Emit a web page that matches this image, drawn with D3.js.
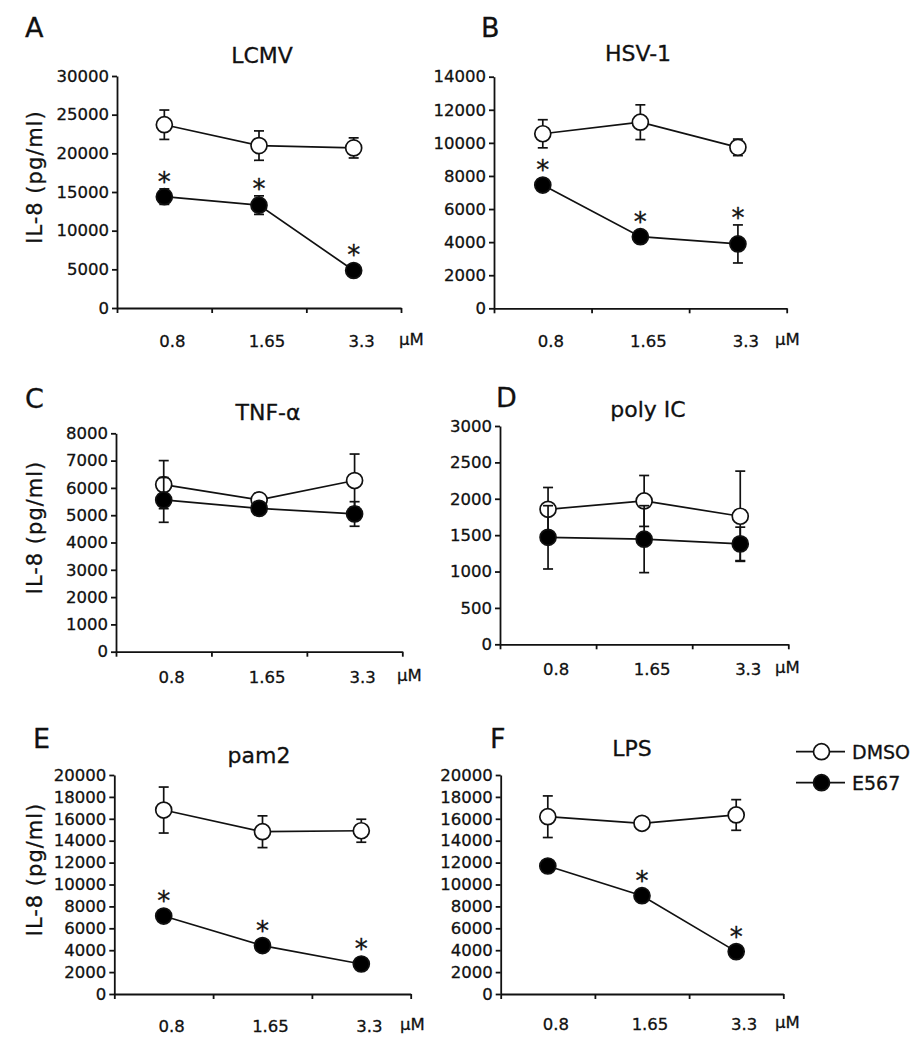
<!DOCTYPE html>
<html>
<head>
<meta charset="utf-8">
<script src="https://cdn.jsdelivr.net/npm/d3@7"></script>
<style>
  html, body { margin: 0; padding: 0; background: #fff; }
  svg { display: block; }
  text { font-family: "DejaVu Sans", Verdana, sans-serif; fill: #111; stroke: #111; stroke-width: 0.3px; }
</style>
</head>
<body>
<svg id="chart" width="922" height="1050"></svg>
<script>
// ---------------- data ----------------
const doses = ["0.8", "1.65", "3.3"];
const panelLetters = ["A", "B", "C", "D", "E", "F"];
const panelTitles = ["LCMV", "HSV-1", "TNF-\u03B1", "poly IC", "pam2", "LPS"];
const yMaxValues = [30000, 14000, 8000, 3000, 20000, 20000];
const yStepValues = [5000, 2000, 1000, 500, 2000, 2000];
const seriesNames = ["DMSO", "E567"];

const dmsoMean = [
  [23700, 21000, 20700],
  [10550, 11250, 9730],
  [6120, 5560, 6270],
  [1855, 1970, 1760],
  [16800, 14820, 14910],
  [16190, 15590, 16350]
];
const dmsoErr = [
  [1900, 1900, 1300],
  [850, 1050, 500],
  [880, 150, 970],
  [300, 350, 620],
  [2100, 1450, 1050],
  [1900, 200, 1400]
];
const e567Mean = [
  [14400, 13300, 4850],
  [7450, 4330, 3890],
  [5560, 5250, 5045],
  [1470, 1445, 1380],
  [7120, 4420, 2740],
  [11690, 8980, 3870]
];
const e567Err = [
  [1000, 1200, 500],
  [350, 350, 1150],
  [820, 150, 450],
  [435, 460, 230],
  [300, 300, 300],
  [300, 300, 300]
];
const significant = [
  [1, 1, 1],
  [1, 1, 1],
  [0, 0, 0],
  [0, 0, 0],
  [1, 1, 1],
  [0, 1, 1]
];
const yAxisLabel = "IL-8 (pg/ml)";
const unitLabel = "\u03BCM";

// ---------------- layout (positions only) ----------------
const layout = [
  { x0: 117,   x1: 401,   yTop: 76,    yBot: 308,   labY: 346.5, titleX: 262, titleY: 63,  letX: 25,  letY: 37,  unitX: 399, yLabel: true },
  { x0: 494,   x1: 786.7, yTop: 76.7,  yBot: 308.3, labY: 346.5, titleX: 638, titleY: 61,  letX: 481, letY: 37,  unitX: 775, yLabel: false },
  { x0: 116,   x1: 402.3, yTop: 433.3, yBot: 651.7, labY: 683,   titleX: 268, titleY: 420, letX: 25,  letY: 408, unitX: 397, yLabel: true },
  { x0: 500,   x1: 788.3, yTop: 426,   yBot: 644.3, labY: 675,   titleX: 648, titleY: 417, letX: 496, letY: 407, unitX: 775, yLabel: false },
  { x0: 114.3, x1: 410.7, yTop: 775,   yBot: 994,   labY: 1031.5,titleX: 259, titleY: 763, letX: 33,  letY: 748, unitX: 400, yLabel: true },
  { x0: 500.7, x1: 783.3, yTop: 775,   yBot: 994,   labY: 1030,  titleX: 632, titleY: 756, letX: 490, letY: 748, unitX: 775, yLabel: false }
];
const R = 8;
const LW = 1.7;

const svg = d3.select("#chart");
svg.append("rect").attr("width", 922).attr("height", 1050).attr("fill", "#fff");

panelLetters.forEach((letter, p) => {
  const L = layout[p];
  const g = svg.append("g");
  const x = d3.scaleLinear().domain([0, doses.length]).range([L.x0, L.x1]);
  const y = d3.scaleLinear().domain([0, yMaxValues[p]]).range([L.yBot, L.yTop]);

  // y axis
  const yTicks = d3.range(0, yMaxValues[p] + 1, yStepValues[p]);
  const yAx = g.append("g").attr("transform", `translate(${L.x0},0)`)
    .call(d3.axisLeft(y).tickValues(yTicks).tickFormat(d3.format("d")).tickSize(5).tickSizeOuter(0).tickPadding(3));
  yAx.selectAll("text").attr("font-size", 16.5).attr("font-family", "DejaVu Sans").attr("fill", "#111");
  yAx.selectAll("line, path").attr("stroke", "#111").attr("stroke-width", 1.8);

  // x axis (ticks at category boundaries)
  const xAx = g.append("g").attr("transform", `translate(0,${L.yBot})`)
    .call(d3.axisBottom(x).tickValues(d3.range(0, doses.length + 1)).tickFormat("").tickSize(5).tickSizeOuter(0));
  xAx.selectAll("line, path").attr("stroke", "#111").attr("stroke-width", 1.8);

  // x category labels
  g.selectAll(".xl").data(doses).enter().append("text")
    .attr("x", (d, i) => x(i + 0.5) + 8)
    .attr("y", L.labY)
    .attr("text-anchor", "middle")
    .attr("font-size", 16.5)
    .text(d => d);
  g.append("text").attr("x", L.unitX).attr("y", L.labY - 2).attr("font-size", 16.5).text(unitLabel);

  // title & letter
  g.append("text").attr("x", L.titleX).attr("y", L.titleY).attr("text-anchor", "middle")
    .attr("font-size", 22).text(panelTitles[p]);
  g.append("text").attr("x", L.letX).attr("y", L.letY).attr("font-size", 27).text(letter);

  if (L.yLabel) {
    const cy = (L.yTop + L.yBot) / 2 - 15;
    g.append("text").attr("transform", `translate(42,${cy}) rotate(-90)`)
      .attr("text-anchor", "middle").attr("font-size", 21).attr("letter-spacing", 1)
      .text(yAxisLabel);
  }

  const line = d3.line().x((d, i) => x(i + 0.5)).y(d => y(d));
  const series = [
    { mean: dmsoMean[p], err: dmsoErr[p], fill: "#fff" },
    { mean: e567Mean[p], err: e567Err[p], fill: "#000" }
  ];
  series.forEach(s => {
    g.append("path").datum(s.mean).attr("d", line)
      .attr("fill", "none").attr("stroke", "#111").attr("stroke-width", LW);
    s.mean.forEach((m, i) => {
      const cx = x(i + 0.5);
      const yt = y(m + s.err[i]), yb = y(m - s.err[i]);
      g.append("line").attr("x1", cx).attr("x2", cx).attr("y1", yt).attr("y2", yb)
        .attr("stroke", "#111").attr("stroke-width", LW);
      [yt, yb].forEach(yy => g.append("line").attr("x1", cx - 5).attr("x2", cx + 5)
        .attr("y1", yy).attr("y2", yy).attr("stroke", "#111").attr("stroke-width", LW));
    });
    g.selectAll(null).data(s.mean).enter().append("circle")
      .attr("cx", (d, i) => x(i + 0.5)).attr("cy", d => y(d)).attr("r", R)
      .attr("fill", s.fill).attr("stroke", "#111").attr("stroke-width", LW);
  });

  // significance stars
  significant[p].forEach((sig, i) => {
    if (!sig) return;
    const m = e567Mean[p][i];
    const top = Math.min(y(m + e567Err[p][i]), y(m) - R);
    g.append("text").attr("x", x(i + 0.5)).attr("y", top + 2)
      .attr("text-anchor", "middle").attr("font-size", 26).text("*");
  });
});

// legend
const legY = [751.7, 782.7];
const legFill = ["#fff", "#000"];
const leg = svg.append("g");
seriesNames.forEach((name, i) => {
  leg.append("line").attr("x1", 796).attr("x2", 845).attr("y1", legY[i]).attr("y2", legY[i])
    .attr("stroke", "#111").attr("stroke-width", LW);
  leg.append("circle").attr("cx", 821.5).attr("cy", legY[i]).attr("r", R)
    .attr("fill", legFill[i]).attr("stroke", "#111").attr("stroke-width", LW);
  leg.append("text").attr("x", 852).attr("y", legY[i] + 7).attr("font-size", 19).text(name);
});
</script>
</body>
</html>
